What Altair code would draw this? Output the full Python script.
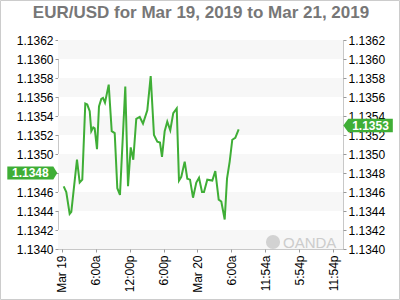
import altair as alt
import pandas as pd

# ---- data ----
hours = [0.35, 0.81, 1.41, 1.70, 2.70, 3.18, 3.64, 4.17, 4.52, 4.95, 5.23, 5.58, 5.83,
         6.24, 6.59, 7.00, 7.30, 7.65, 8.31, 8.84, 9.37, 9.83, 10.30, 11.24, 11.72,
         12.20, 12.65, 13.18, 13.79, 14.37, 15.13, 15.73, 16.31, 16.90, 17.37, 17.73,
         18.20, 18.66, 19.19, 19.72, 20.33, 20.73, 21.14, 21.74, 22.20, 22.68, 23.21,
         23.79, 24.27, 24.80, 25.15, 25.73, 26.62, 27.15, 27.75, 28.21, 28.81, 29.22,
         29.69, 30.15, 30.68, 31.28]
prices = [1.13466, 1.13460, 1.13437, 1.13439, 1.13494, 1.13470, 1.13473, 1.13553,
          1.13552, 1.13545, 1.13524, 1.13528, 1.13527, 1.13505, 1.13550, 1.13558,
          1.13559, 1.13554, 1.13573, 1.13524, 1.13522, 1.13464, 1.13457, 1.13571,
          1.13466, 1.13507, 1.13494, 1.13537, 1.13539, 1.13532, 1.13546, 1.13582,
          1.13520, 1.13513, 1.13512, 1.13497, 1.13524, 1.13534, 1.13525, 1.13543,
          1.13548, 1.13472, 1.13476, 1.13492, 1.13474, 1.13473, 1.13454, 1.13470,
          1.13475, 1.13460, 1.13460, 1.13473, 1.13472, 1.13482, 1.13452, 1.13450,
          1.13431, 1.13474, 1.13492, 1.13515, 1.13517, 1.13526]

y_ticks = [1.1340, 1.1342, 1.1344, 1.1346, 1.1348, 1.1350, 1.1352, 1.1354,
           1.1356, 1.1358, 1.1360, 1.1362]
x_tick_hours = [0, 6, 12, 18, 24, 30, 36, 42, 48]
x_tick_labels = ["Mar 19", "6:00a", "12:00p", "6:00p", "Mar 20", "6:00a",
                 "11:54a", "5:54p", "11:54p"]
band_lo = [1.1340, 1.1344, 1.1348, 1.1352, 1.1356, 1.1360]
band_hi = [1.1342, 1.1346, 1.1350, 1.1354, 1.1358, 1.1362]
left_value = [1.1348]
right_value = [1.1353]
title_text = "EUR/USD for Mar 19, 2019 to Mar 21, 2019"
watermark = "OANDA"

W, H = 285, 209
GREEN = "#3fae36"
FONT = "Liberation Sans"

line_df = pd.DataFrame({"h": hours, "p": prices})
band_df = pd.DataFrame({"lo": band_lo, "hi": band_hi})
left_df = pd.DataFrame({"v": left_value})
right_df = pd.DataFrame({"v": right_value})

yscale = alt.Scale(domain=[1.1340, 1.1362], zero=False, nice=False)
xscale = alt.Scale(domain=[-0.654, 49.72], zero=False, nice=False)

label_expr = "{}[indexof({}, datum.value)]".format(
    "[" + ",".join("'%s'" % s for s in x_tick_labels) + "]",
    "[" + ",".join(str(v) for v in x_tick_hours) + "]",
)

yaxis_common = dict(values=y_ticks, format=".4f", title=None, domain=False, grid=False,
                    tickSize=3, tickColor="#999999", labelPadding=2, labelFontSize=12,
                    labelColor="#000000", labelFont=FONT, labelOverlap=False,
                    labelFlush=False, labelBound=False)

# the left marker sits on top of the 1.1348 label, so that label is not drawn
left_label_expr = "format(datum.value, '.4f') == '%.4f' ? '' : datum.label" % left_value[0]

bands = alt.Chart(band_df).mark_rect(fill="#f7f7f7").encode(
    x=alt.value(0), x2=alt.value(W),
    y=alt.Y("lo:Q", scale=yscale, axis=alt.Axis(orient="left", labelExpr=left_label_expr,
                                                  **yaxis_common)),
    y2="hi:Q",
)

line = alt.Chart(line_df).mark_line(color=GREEN, strokeWidth=2).encode(
    x=alt.X("h:Q", scale=xscale, axis=alt.Axis(
        values=x_tick_hours, labelExpr=label_expr, title=None, domain=False, grid=False,
        tickSize=3, tickColor="#999999", labelAngle=270, labelAlign="right",
        labelBaseline="middle", labelPadding=3, labelFontSize=12, labelColor="#000000",
        labelFont=FONT, labelOverlap=False, labelFlush=False, labelBound=False)),
    y=alt.Y("p:Q", scale=yscale, axis=alt.Axis(orient="right", **yaxis_common)),
)

left_shape = "M -1 -0.26 L 0.84 -0.26 L 1 0 L 0.84 0.26 L -1 0.26 Z"
right_shape = "M -1 0 L -0.8 -0.27 L 0.98 -0.27 L 0.98 0.27 L -0.8 0.27 Z"

left_box = alt.Chart(left_df).mark_point(
    shape=left_shape, size=2500, filled=True, fill=GREEN, opacity=1, strokeWidth=0
).encode(x=alt.value(-25.7), y=alt.Y("v:Q", scale=yscale, axis=None))
left_text = alt.Chart(left_df).mark_text(
    color="white", fontWeight="bold", fontSize=12, font=FONT, baseline="middle"
).encode(x=alt.value(-27.7), y=alt.Y("v:Q", scale=yscale, axis=None),
         text=alt.Text("v:Q", format=".4f"))

right_box = alt.Chart(right_df).mark_point(
    shape=right_shape, size=2500, filled=True, fill=GREEN, opacity=1, strokeWidth=0
).encode(x=alt.value(310.3), y=alt.Y("v:Q", scale=yscale, axis=None))
right_text = alt.Chart(right_df).mark_text(
    color="white", fontWeight="bold", fontSize=12, font=FONT, baseline="middle"
).encode(x=alt.value(312.5), y=alt.Y("v:Q", scale=yscale, axis=None),
         text=alt.Text("v:Q", format=".4f"))

title = alt.Chart(pd.DataFrame({"t": [title_text]})).mark_text(
    fontSize=17, fontWeight="bold", color="#777777", font=FONT, baseline="alphabetic",
    align="center"
).encode(x=alt.value(143), y=alt.value(-22.5), text="t:N")

logo = alt.Chart(pd.DataFrame({"t": [watermark]})).mark_point(
    shape="circle", size=200, filled=True, fill="#d2d2d2", opacity=1, strokeWidth=0
).encode(x=alt.value(215), y=alt.value(202))
logo_text = alt.Chart(pd.DataFrame({"t": [watermark]})).mark_text(
    fontSize=15, color="#cccccc", font=FONT, baseline="middle", align="left"
).encode(x=alt.value(225), y=alt.value(202.5), text="t:N")

frame = alt.Chart(pd.DataFrame({"t": [0]})).mark_rect(
    fill=None, stroke="#cccccc", strokeWidth=1
).encode(x=alt.value(-57.5), x2=alt.value(W + 56.5), y=alt.value(-39.5), y2=alt.value(H + 50.5))

chart = alt.layer(
    bands, logo, logo_text, line, left_box, left_text, right_box, right_text, title, frame
).resolve_axis(y="independent").properties(
    width=W, height=H,
    autosize=alt.AutoSizeParams(type="none"),
    padding={"left": 58, "top": 40, "right": 57, "bottom": 51},
    background="white",
).configure_view(stroke="#c8c8c8", strokeWidth=1)

chart.save("out.html", embed_options={"renderer": "svg", "actions": False})
